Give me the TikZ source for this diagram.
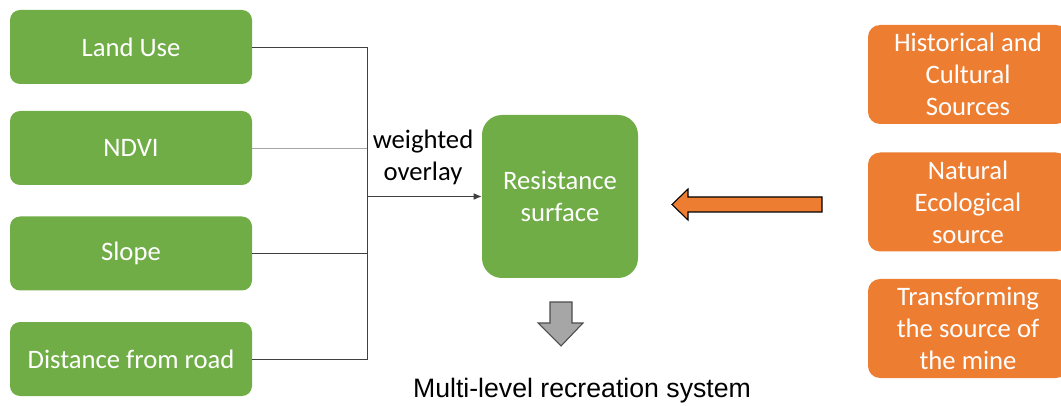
\documentclass[tikz,border=0pt]{standalone}
\usepackage{fontspec}
\setmainfont{Carlito}
\newfontfamily\arialfont{Liberation Sans}
\usetikzlibrary{positioning,arrows.meta}

\definecolor{leafgreen}{HTML}{70AD47}
\definecolor{sourceorange}{HTML}{ED7D31}
\definecolor{linegray}{HTML}{404040}

\tikzset{
  factor/.style={fill=leafgreen, text=white, rounded corners=7.5pt,
    minimum width=181.5pt, minimum height=55.5pt, font=\fontsize{20}{24}\selectfont},
  source/.style={fill=sourceorange, text=white, rounded corners=9pt, align=center,
    minimum width=150pt, minimum height=74.25pt, font=\fontsize{20}{24}\selectfont},
  link/.style={draw=linegray, line width=0.6pt}
}

\begin{document}
\begin{tikzpicture}[x=0.75pt, y=-0.75pt]
\useasboundingbox (0,0) rectangle (1061,406);
\clip (0,0) rectangle (1061,406);

% factor layers
\node[factor] (landuse) at (131,47) {Land Use};
\node[factor] (ndvi) at (131,148) {NDVI};
\node[factor] (slope) at (131,253.5) {Slope};
\node[factor] (road) at (131,359) {Distance from road};

% resistance surface
\node[fill=leafgreen, text=white, rounded corners=15pt, align=center,
  minimum width=117pt, minimum height=122.25pt,
  font=\fontsize{20}{24}\selectfont] (resist) at (560,196.5) {Resistance\\surface};

% sources
\node[source] (history) at (968,74.5) {Historical and\\Cultural\\Sources};
\node[source] (nature) at (968,202) {Natural\\Ecological\\source};
\node[source] (mine) at (968,328.5) {Transforming\\the source of\\the mine};

% overlay connectors
\coordinate (join) at (367,196.5);
\draw[link] (landuse.east) -| (367,47) -- (367,359) -- (road.east);
\draw[draw=gray!70, line width=0.5pt] (ndvi.east) -- (367,148);
\draw[link] (slope.east) -- (367,253.5);
\draw[link, -{Latex[length=6pt,width=5pt]}] (join) -- (resist.west);
\node[align=center, font=\fontsize{20}{24}\selectfont] (overlay) at (423,157) {weighted\\overlay};

% orange block arrow
\draw[fill=sourceorange, draw=black, line width=0.8pt]
  (822,197) -- (688,197) -- (688,189) -- (672,204.5) -- (688,220) -- (688,212) -- (822,212) -- cycle;

% gray down arrow
\draw[fill=gray!70, draw=gray!60!black, line width=0.8pt]
  (550,302) -- (572,302) -- (572,323) -- (583,323) -- (561,346) -- (538,323) -- (550,323) -- cycle;

\node[font=\arialfont\fontsize{20}{24}\selectfont] (system) at (582,391) {Multi-level recreation system};
\end{tikzpicture}
\end{document}
